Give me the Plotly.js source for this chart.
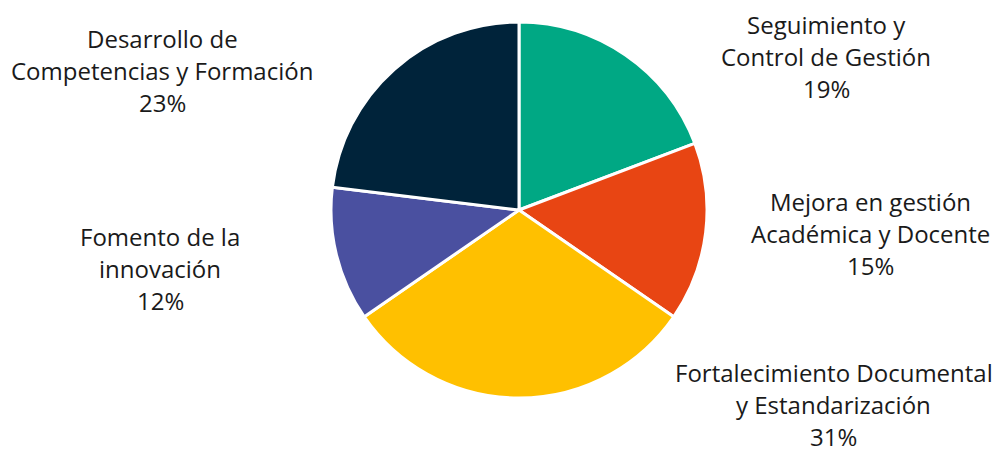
<!DOCTYPE html>
<html>
<head>
<meta charset="utf-8">
<script src="https://cdn.plot.ly/plotly-3.0.1.min.js"></script>
<style>html,body{margin:0;padding:0;background:#fff;}#chart{width:994px;height:449px;}</style>
</head>
<body>
<div id="chart"></div>
<script>
const categories = [
  "Seguimiento y<br>Control de Gestión",
  "Mejora en gestión<br>Académica y Docente",
  "Fortalecimiento Documental<br>y Estandarización",
  "Fomento de la<br>innovación",
  "Desarrollo de<br>Competencias y Formación"
];
const values = [5, 4, 8, 3, 6];
const colors = ["#00A884", "#E84513", "#FFC000", "#4A50A0", "#00233A"];
// label block centres (paper fraction) for each category
const labelX = [0.831, 0.876, 0.839, 0.161, 0.163];
const labelY = [0.875, 0.479, 0.100, 0.403, 0.842];

const W = 994, H = 449, lineH = 32;
const total = values.reduce((a, b) => a + b, 0);
const annotations = [];
categories.forEach((c, i) => {
  const pct = Math.round(values[i] / total * 100) + "%";
  const lines = c.split("<br>").concat([pct]);
  const n = lines.length;
  lines.forEach((ln, k) => {
    annotations.push({
      text: ln, x: labelX[i], y: labelY[i] - ((k - (n - 1) / 2) * lineH) / H,
      xref: "paper", yref: "paper", showarrow: false,
      xanchor: "center", yanchor: "middle",
      font: {family: "Open Sans", size: 24, color: "#1a1a1a"}
    });
  });
});

const data = [{
  type: "pie",
  labels: categories,
  values: values,
  sort: false,
  direction: "clockwise",
  rotation: 0,
  textinfo: "none",
  hoverinfo: "label+percent",
  marker: {colors: colors, line: {color: "#ffffff", width: 3}},
  domain: {x: [(519 - 188) / W, (519 + 188) / W], y: [1 - 398 / H, 1 - 22 / H]}
}];

const layout = {
  width: W, height: H,
  margin: {l: 0, r: 0, t: 0, b: 0},
  showlegend: false,
  paper_bgcolor: "#ffffff",
  annotations: annotations
};
Plotly.newPlot("chart", data, layout, {displayModeBar: false, staticPlot: true});
</script>
</body>
</html>
